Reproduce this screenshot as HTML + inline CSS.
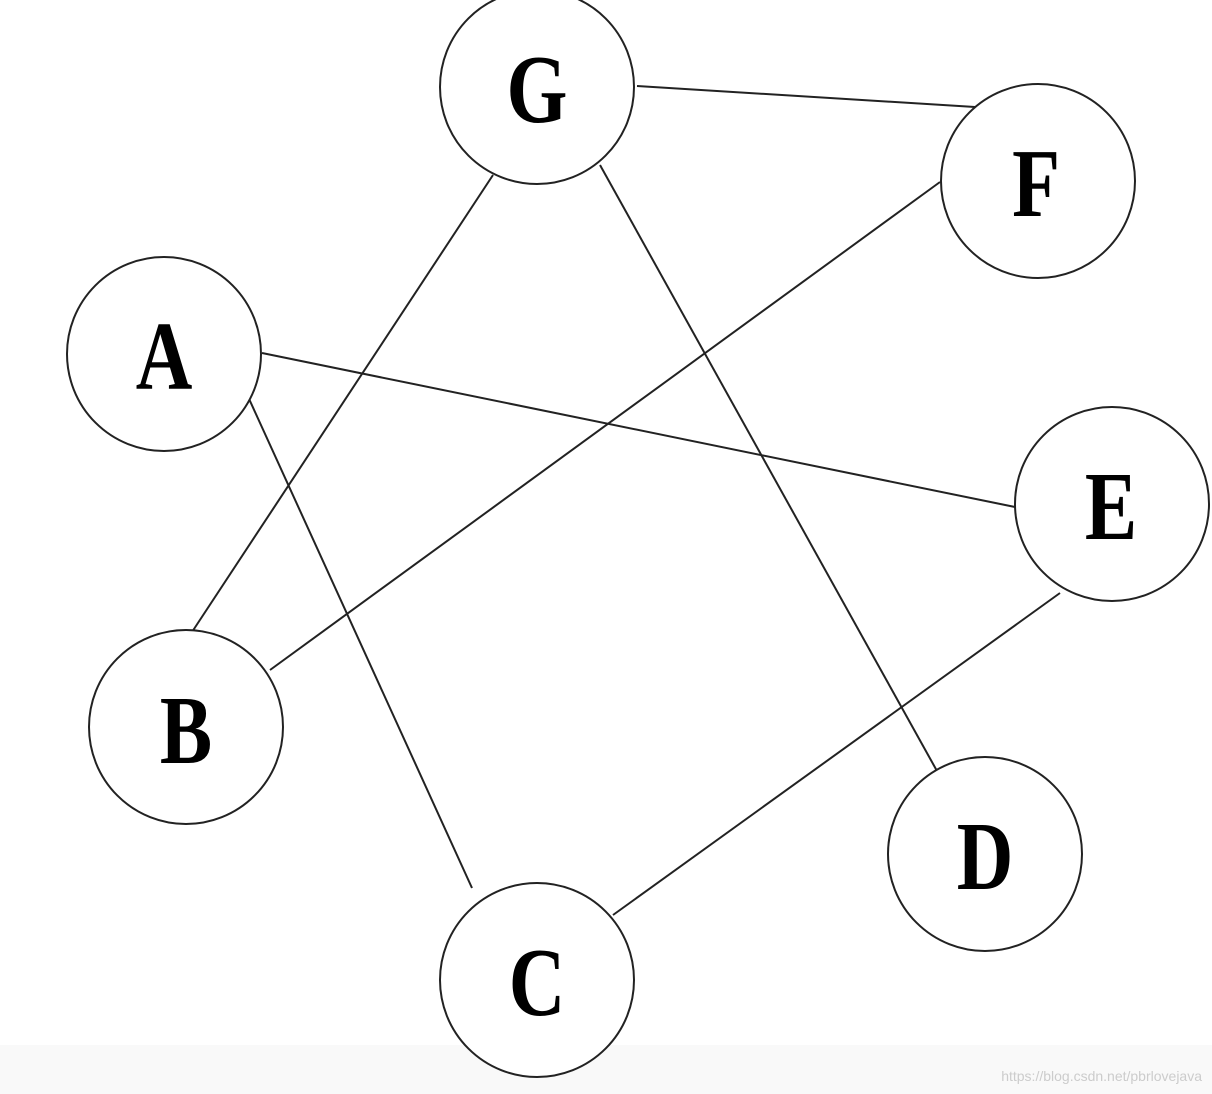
<!DOCTYPE html>
<html><head><meta charset="utf-8"><style>
html,body{margin:0;padding:0;background:#fff;}
svg{display:block}
text.l{font-family:"Liberation Serif",serif;font-weight:bold;font-size:98px;fill:#000;}
</style></head><body>
<svg width="1212" height="1094" viewBox="0 0 1212 1094" xmlns="http://www.w3.org/2000/svg">
<rect x="0" y="1045" width="1212" height="49" fill="#f9f9f9"/>
<g stroke="#222" stroke-width="2" fill="none">
<line x1="637" y1="86" x2="975" y2="107"/>
<line x1="493" y1="175" x2="192" y2="632"/>
<line x1="600" y1="165" x2="942" y2="780"/>
<line x1="940" y1="182" x2="270" y2="670"/>
<line x1="262" y1="353" x2="1015" y2="507"/>
<line x1="245" y1="390" x2="472" y2="888"/>
<line x1="1060" y1="593" x2="613" y2="915"/>
</g>
<g stroke="#222" stroke-width="2" fill="#fff">
<circle cx="537" cy="87" r="97"/>
<circle cx="1038" cy="181" r="97"/>
<circle cx="164" cy="354" r="97"/>
<circle cx="1112" cy="504" r="97"/>
<circle cx="186" cy="727" r="97"/>
<circle cx="985" cy="854" r="97"/>
<circle cx="537" cy="980" r="97"/>
</g>
<g text-anchor="middle">
<text class="l" transform="translate(537,122) scale(0.8,1)">G</text>
<text class="l" transform="translate(1036,216) scale(0.8,1)">F</text>
<text class="l" transform="translate(164,389) scale(0.8,1)">A</text>
<text class="l" transform="translate(1111,539) scale(0.8,1)">E</text>
<text class="l" transform="translate(186,763) scale(0.8,1)">B</text>
<text class="l" transform="translate(985,889) scale(0.8,1)">D</text>
<text class="l" transform="translate(537,1015) scale(0.8,1)">C</text>
</g>
<text x="1202" y="1081" text-anchor="end" font-family="Liberation Sans,sans-serif" font-size="14" fill="#ccc">https://blog.csdn.net/pbrlovejava</text>
</svg>
</body></html>
